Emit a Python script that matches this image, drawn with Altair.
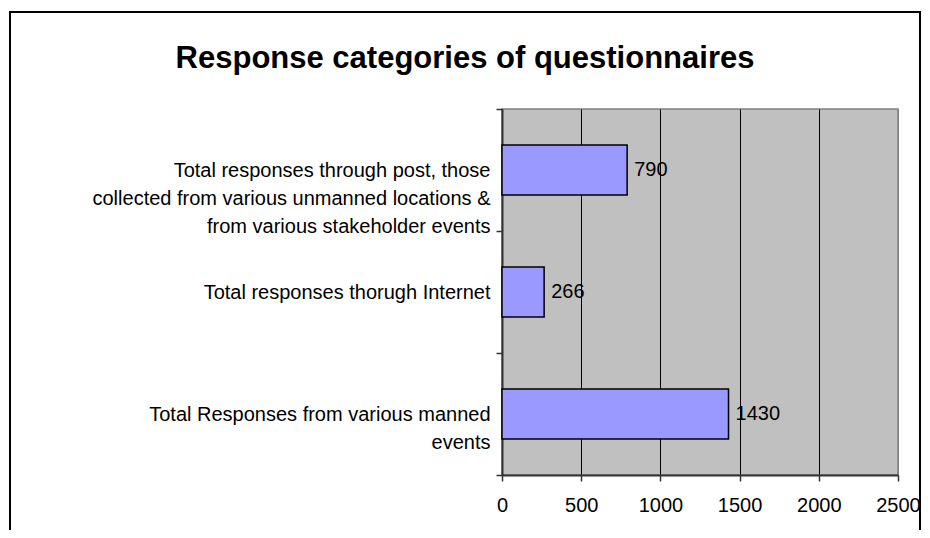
import altair as alt
import pandas as pd

# ---- data ----
categories = [
    "Total responses through post, those|collected from various unmanned locations &|from various stakeholder events",
    "Total responses thorugh Internet",
    "Total Responses from various manned|events",
]
values = [790, 266, 1430]
x_ticks = [0, 500, 1000, 1500, 2000, 2500]
title_text = "Response categories of questionnaires"

df = pd.DataFrame({"category": categories, "value": values})

FONT = "Liberation Sans"

x_enc = alt.X(
    "value:Q",
    scale=alt.Scale(domain=[0, 2500], nice=False),
    axis=alt.Axis(
        values=x_ticks, title=None, format="d", labelFontSize=20, labelFont=FONT,
        labelColor="black", tickSize=6, tickColor="#333333", tickWidth=1.5,
        domainColor="#333333", domainWidth=2, labelPadding=14,
        labelFlush=False, labelOverlap=False,
        gridColor={"condition": {"test": "datum.value >= 2500", "value": "#808080"}, "value": "black"},
        gridWidth=1,
    ),
)
y_enc = alt.Y(
    "category:N", sort=categories,
    scale=alt.Scale(paddingInner=0, paddingOuter=0),
    axis=alt.Axis(
        title=None, labelExpr="split(datum.label, '|')", labelFontSize=20,
        labelFont=FONT, labelColor="black", labelLineHeight=28, labelPadding=6,
        labelLimit=0, tickBand="extent", tickSize=6, tickColor="#333333",
        tickWidth=1.5, domainColor="#333333", domainWidth=2, grid=False,
    ),
)

frame = alt.Chart(alt.Data(values=[{}])).mark_rect(
    fillOpacity=0, stroke="black", strokeWidth=2
).encode(x=alt.value(-492), x2=alt.value(418), y=alt.value(-97), y2=alt.value(700))

title = alt.Chart(alt.Data(values=[{}])).mark_text(
    text=title_text, font=FONT, fontSize=31, fontWeight="bold",
    align="center", baseline="alphabetic", color="black"
).encode(x=alt.value(-37), y=alt.value(-41))

bars = alt.Chart(df).mark_bar(
    color="#9999FF", stroke="black", strokeWidth=1.5,
    height=alt.RelativeBandSize(0.41),
).encode(x=x_enc, y=y_enc)

labels = alt.Chart(df).mark_text(
    align="left", baseline="middle", dx=7, font=FONT, fontSize=20, color="black"
).encode(x="value:Q", y=alt.Y("category:N", sort=categories), text="value:Q")

chart = alt.layer(frame, title, bars, labels).properties(
    width=396, height=366,
    autosize=alt.AutoSizeParams(type="none"),
    padding={"left": 494, "top": 101, "right": 24, "bottom": 55},
    background="white",
).configure_view(fill="#C0C0C0", stroke="#808080", strokeWidth=1.5)

chart.save("out.html", embed_options={"renderer": "svg", "actions": False})
